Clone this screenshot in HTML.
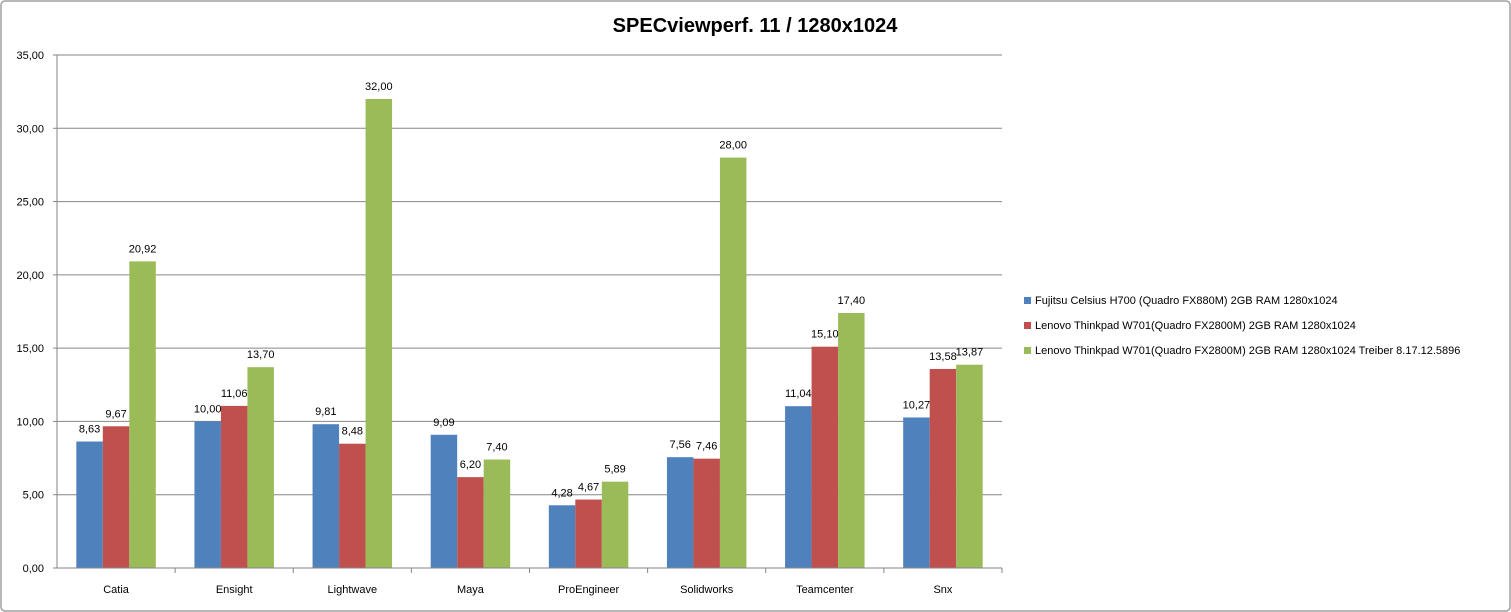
<!DOCTYPE html>
<html><head><meta charset="utf-8"><style>
body{margin:0;background:#fff;}
svg{display:block;font-family:"Liberation Sans",Calibri,sans-serif;}
</style></head><body>
<svg id="chart" width="1511" height="612">
<rect x="1" y="1" width="1509" height="610" fill="#fff" stroke="#a0a0a0" stroke-width="1.5" rx="4"/>
<text x="755" y="32" text-anchor="middle" font-size="20" font-weight="bold">SPECviewperf. 11 / 1280x1024</text>
<g id="grid"></g><g id="bars"></g><g id="labels"></g><g id="axes"></g><g id="legend"></g>
</svg>
<script>
const categories=["Catia","Ensight","Lightwave","Maya","ProEngineer","Solidworks","Teamcenter","Snx"];
const fujitsu=[8.63,10.00,9.81,9.09,4.28,7.56,11.04,10.27];
const lenovo=[9.67,11.06,8.48,6.20,4.67,7.46,15.10,13.58];
const lenovoTreiber=[20.92,13.70,32.00,7.40,5.89,28.00,17.40,13.87];
const yTicks=[0,5,10,15,20,25,30,35];
const seriesNames=["Fujitsu Celsius H700 (Quadro FX880M) 2GB RAM 1280x1024","Lenovo Thinkpad W701(Quadro FX2800M) 2GB RAM 1280x1024","Lenovo Thinkpad W701(Quadro FX2800M) 2GB RAM 1280x1024 Treiber 8.17.12.5896"];
const colors=["#4f81bd","#c0504d","#9bbb59"];
const series=[fujitsu,lenovo,lenovoTreiber];
const NS="http://www.w3.org/2000/svg";
const X0=57,X1=1002,Y0=568,Y1=55,YMAX=35;
const y=v=>Y0-(v/YMAX)*(Y0-Y1);
const band=(X1-X0)/categories.length;
const bw=26.5;
const fmt=v=>v.toFixed(2).replace('.',',');
function mk(tag,attrs,parent){const e=document.createElementNS(NS,tag);for(const k in attrs)e.setAttribute(k,attrs[k]);document.getElementById(parent).appendChild(e);return e;}
yTicks.forEach(t=>{
 if(t>0){const l=mk('line',{x1:X0,x2:X1,y1:y(t),y2:y(t),stroke:'#868686','stroke-width':1},'grid');
 
 }
 const tk=mk('line',{x1:X0-4,x2:X0,y1:y(t),y2:y(t),stroke:'#868686'},'axes');
 
 
 const tx=mk('text',{x:X0-13,y:y(t)+4,'text-anchor':'end','font-size':11},'axes');
 tx.textContent=fmt(t);
 
 
});
categories.forEach((c,i)=>{
 const cx=X0+band*(i+0.5);
 series.forEach((s,j)=>{
  const bx=cx-1.5*bw+j*bw;
  const r=mk('rect',{x:bx,y:y(s[i]),width:bw,height:Y0-y(s[i]),fill:colors[j]},'bars');
  
  
  const t=mk('text',{x:bx+bw/2,y:y(s[i])-9,'text-anchor':'middle','font-size':11},'labels');
  t.textContent=fmt(s[i]);
  
  
 });
 const tk=mk('line',{x1:X0+band*(i+1),x2:X0+band*(i+1),y1:Y0,y2:Y0+5,stroke:'#868686'},'axes');
 
 
 const t=mk('text',{x:cx,y:Y0+25,'text-anchor':'middle','font-size':11},'axes');
 t.textContent=c;
 
 
});
const ya=mk('line',{x1:X0,x2:X0,y1:Y1,y2:Y0,stroke:'#868686'},'axes');


const xa=mk('line',{x1:X0-4,x2:X1,y1:Y0,y2:Y0,stroke:'#868686'},'axes');


seriesNames.forEach((n,j)=>{
 const ly=300+j*25;
 const r=mk('rect',{x:1024,y:ly-3,width:7,height:7,fill:colors[j]},'legend');
 
 
 const t=mk('text',{x:1035,y:ly+4,'font-size':11},'legend');
 t.textContent=n;
 
 
});
</script>
</body></html>
